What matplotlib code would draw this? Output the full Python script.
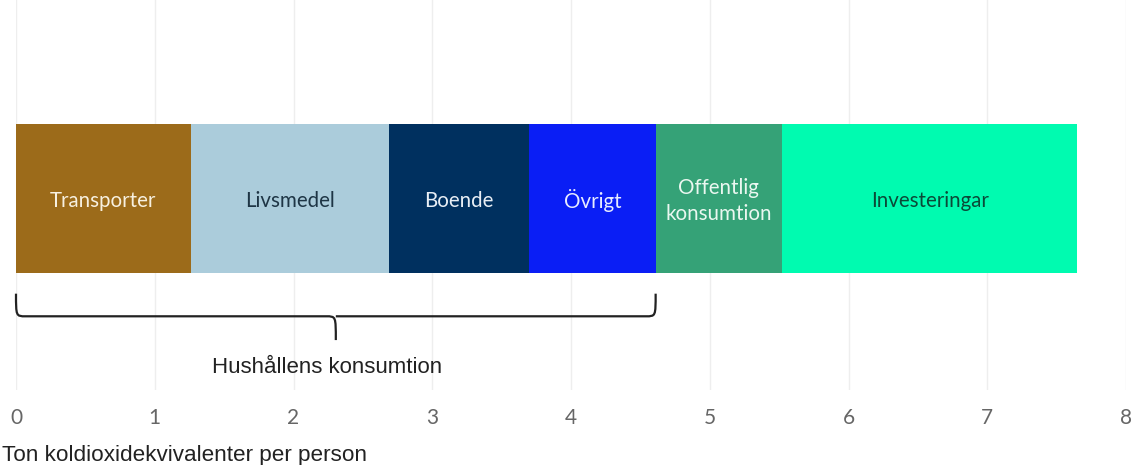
import matplotlib.pyplot as plt
from matplotlib.path import Path
from matplotlib.patches import PathPatch
import matplotlib.transforms as mtransforms

# Data (ton CO2e per person)
categories = ["Transporter", "Livsmedel", "Boende", "Övrigt", "Offentlig\nkonsumtion", "Investeringar"]
values = [1.26, 1.43, 1.01, 0.91, 0.91, 2.13]
colors = ["#9C6B1A", "#ABCCDB", "#00305F", "#0A1EF5", "#35A277", "#00FBB0"]
text_colors = ["#F7F0E0", "#1E3545", "#E8EEF5", "#E8ECFF", "#EAF7F0", "#0B4A38"]
household_count = 4  # first four belong to household consumption
brace_label = "Hushållens konsumtion"
xticks = [0, 1, 2, 3, 4, 5, 6, 7, 8]

fig = plt.figure(figsize=(11.32, 4.65), dpi=100)
ax = fig.add_axes([16 / 1132, 1 - 390 / 465, 1110 / 1132, 390 / 465])

bar_y = 0.49
bar_h = 0.382
left = 0
for cat, val, col, tc in zip(categories, values, colors, text_colors):
    ax.barh(bar_y, val, left=left, height=bar_h, color=col, edgecolor="none", zorder=2)
    ax.text(left + val / 2, bar_y - 0.005, cat, ha="center", va="center", color=tc,
            fontsize=14.8, family="Lato", linespacing=1.35, zorder=3)
    left += val

ax.set_xlim(0, 8)
ax.set_ylim(0, 1)
ax.set_xticks(xticks)
ax.set_xticklabels([str(t) for t in xticks], fontsize=15, color="#666666", family="Lato")
ax.tick_params(axis="x", length=0, pad=13)
ax.set_yticks([])
ax.grid(axis="x", color="#EEEEEE", linewidth=1, zorder=0)
for s in ax.spines.values():
    s.set_visible(False)

# Brace under household consumption
trans = mtransforms.blended_transform_factory(ax.transData, ax.transAxes)
x0 = 0
x1 = sum(values[:household_count])
xm = (x0 + x1) / 2
y_top, y_mid, y_tip = 0.247, 0.189, 0.128
dx = 0.07
verts = [
    (x0, y_top), (x0, y_mid), (x0, y_mid), (x0 + dx, y_mid),
    (xm - dx, y_mid),
    (xm, y_mid), (xm, y_mid), (xm, y_tip),
    (xm, y_mid), (xm, y_mid), (xm + dx, y_mid),
    (x1 - dx, y_mid),
    (x1, y_mid), (x1, y_mid), (x1, y_top),
]
codes = [Path.MOVETO, Path.CURVE4, Path.CURVE4, Path.CURVE4,
         Path.LINETO,
         Path.CURVE4, Path.CURVE4, Path.CURVE4,
         Path.MOVETO, Path.CURVE4, Path.CURVE4,
         Path.LINETO,
         Path.CURVE4, Path.CURVE4, Path.CURVE4]
brace = PathPatch(Path(verts, codes), transform=trans, facecolor="none",
                  edgecolor="#222222", linewidth=1.6, zorder=3, clip_on=False)
ax.add_patch(brace)
ax.text(xm - 0.06, 0.058, brace_label, transform=trans, ha="center", va="center",
        fontsize=16, family="Liberation Sans", color="#222222")

fig.text(2 / 1132, 1 - 455 / 465, "Ton koldioxidekvivalenter per person", ha="left", va="center",
         fontsize=16.2, family="Liberation Sans", color="#222222")

fig.savefig("out.png", dpi=100)
